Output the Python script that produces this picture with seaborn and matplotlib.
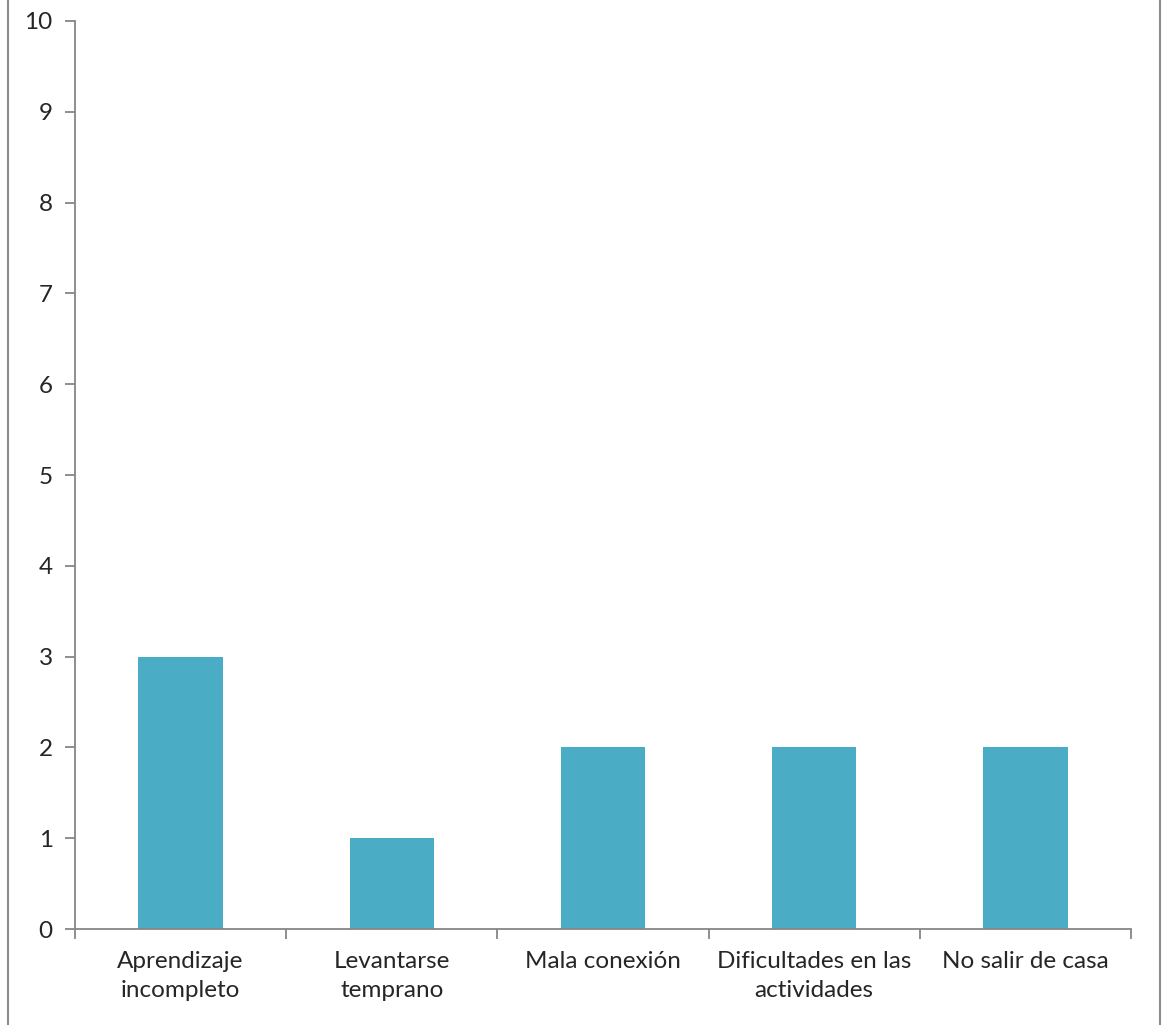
import matplotlib
matplotlib.use("Agg")
import matplotlib.pyplot as plt
from matplotlib.lines import Line2D
from matplotlib.ticker import FixedLocator
import seaborn as sns
import pandas as pd

# categories and counts
categories = ["Aprendizaje\nincompleto", "Levantarse\ntemprano", "Mala conexión",
              "Dificultades en las\nactividades", "No salir de casa"]
counts = [3, 1, 2, 2, 2]
y_ticks = list(range(0, 11))

df = pd.DataFrame({"categoria": categories, "n": counts})

sns.set_style("white")
plt.rcParams['font.family'] = ['Lato', 'DejaVu Sans']

fig = plt.figure(figsize=(11.64, 10.25), dpi=100)
ax = fig.add_axes([75/1164, 1-929/1025, 1056/1164, 908/1025])

sns.barplot(data=df, x="categoria", y="n", color="#4BACC6", width=0.4,
            saturation=1, linewidth=0, ax=ax)

axis_col = "#868686"
ax.set_ylim(0, 10)
ax.set_xlim(-0.5, len(categories) - 0.5)
ax.set_yticks(y_ticks)
ax.set_xlabel("")
ax.set_ylabel("")

for side in ["top", "right"]:
    ax.spines[side].set_visible(False)
for side in ["left", "bottom"]:
    ax.spines[side].set_color(axis_col)
    ax.spines[side].set_linewidth(1.3)

# x ticks sit between categories, labels centred under bars
ax.xaxis.set_minor_locator(FixedLocator([i - 0.5 for i in range(len(categories) + 1)]))
ax.tick_params(axis="x", which="major", bottom=True, length=0, labelsize=17.5, pad=16)
ax.tick_params(axis="x", which="minor", bottom=True, length=7, width=1.3,
               color=axis_col, direction="out")
ax.tick_params(axis="y", left=True, length=7, width=1.3, color=axis_col, direction="out",
               labelsize=17.5, pad=9)
for lab in ax.get_xticklabels():
    lab.set_linespacing(1.45)

# outer frame edges of the original chart area
fig.add_artist(Line2D([8/1164, 8/1164], [0, 1], color="#8c8c8c", lw=1.5))
fig.add_artist(Line2D([1160/1164, 1160/1164], [0, 1], color="#8c8c8c", lw=1.5))

fig.savefig("out.png", dpi=100)
